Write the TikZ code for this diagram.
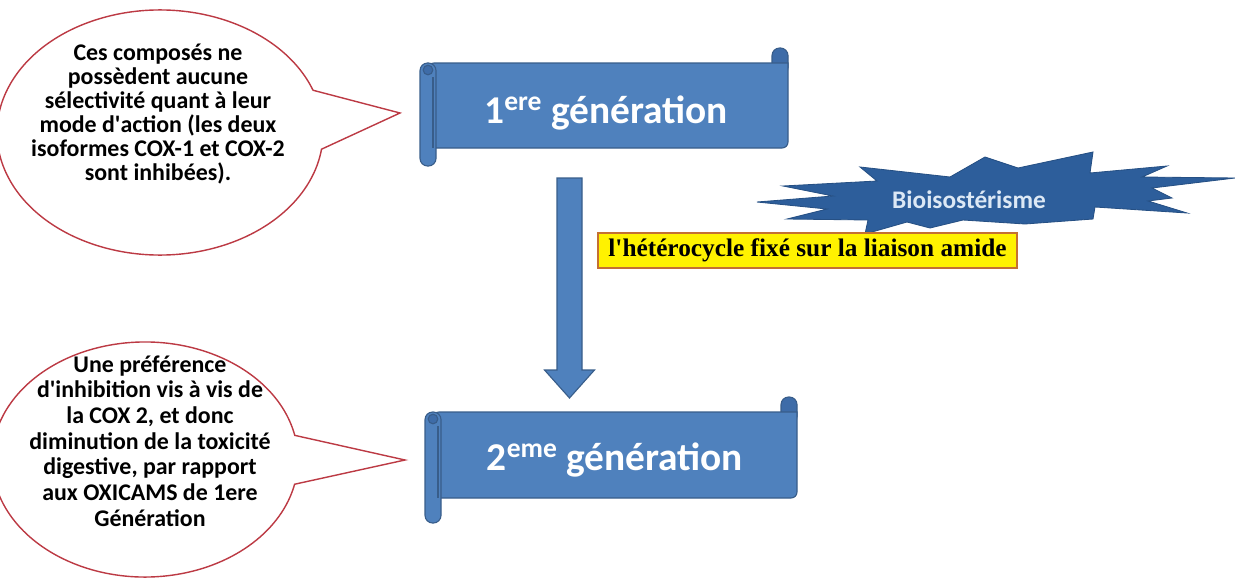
\documentclass[tikz,border=0pt]{standalone}
\usepackage{fontspec}
\setmainfont{Carlito}
\newfontfamily\amidefont{Liberation Serif}
\usetikzlibrary{shapes.callouts,calc}

\definecolor{scrollblue}{RGB}{79,129,189}
\definecolor{scrolledge}{RGB}{56,93,138}
\definecolor{curlblue}{RGB}{62,108,168}
\definecolor{starblue}{RGB}{45,94,155}
\definecolor{startext}{RGB}{220,232,245}
\definecolor{bubbleedge}{RGB}{188,58,68}
\definecolor{amideedge}{RGB}{196,112,50}

\tikzset{
  bubble/.style={ellipse callout, draw=bubbleedge, fill=white, line width=1pt},
  bubbletext/.style={align=center, font=\fontsize{17}{17}\selectfont\bfseries},
  gentext/.style={text=white, font=\fontsize{28}{28}\selectfont\bfseries},
  scrollpart/.style={fill=scrollblue, draw=scrolledge, line width=0.8pt},
}

% scroll banner: left x, top y, right x, bottom y, bottom of the left roll
\newcommand{\genscroll}[5]{%
  \filldraw[scrollpart, fill=curlblue, rounded corners=0.19cm] (#3-16,#2-15) rectangle (#3,#2+12);
  \filldraw[scrollpart] (#1+8,#2) -- (#3,#2) [rounded corners=0.15cm] -- (#3,#4) -- (#1+8,#4) -- cycle;
  \filldraw[scrollpart, rounded corners=0.19cm] (#1,#2) rectangle (#1+16,#5);
  \draw[scrolledge, line width=0.8pt] (#1+13,#2+14) -- (#1+13,#4);
  \filldraw[scrollpart, fill=curlblue] (#1+8,#2+7) circle[radius=0.12cm];
}

\begin{document}
\begin{tikzpicture}[x=0.025cm, y=-0.025cm]
  \useasboundingbox (0,0) rectangle (1235,585);

  % callouts
  \node[bubble, minimum width=8.15cm, minimum height=6.125cm,
        callout absolute pointer={(400,113)}, callout pointer arc=28] (note1) at (160,132.5) {};
  \node[bubbletext] (note1text) at (158,114)
    {Ces composés ne\\possèdent aucune\\sélectivité quant à leur\\mode d\textquotesingle action (les deux\\isoformes COX-1 et COX-2\\sont inhibées).};

  \node[bubble, minimum width=7.65cm, minimum height=5.875cm,
        callout absolute pointer={(405,460)}, callout pointer arc=24] (note2) at (145,459.5) {};
  \node[bubbletext, font=\fontsize{17}{18.3}\selectfont\bfseries] (note2text) at (150,441)
    {Une préférence\\d\textquotesingle inhibition vis à vis de\\la COX 2, et donc\\diminution de la toxicité\\digestive, par rapport\\aux OXICAMS de 1ere\\Génération};

  % generations
  \genscroll{420}{63}{788}{148}{166}
  \node[gentext] (gen1) at (606,113) {1\textsuperscript{ere} génération};

  \genscroll{425}{412}{797}{498}{523}
  \node[gentext] (gen2) at (615,460) {2\textsuperscript{eme} génération};

  % block arrow between them
  \coordinate (atop) at (569.5,178);
  \coordinate (atip) at (569.5,398);
  \filldraw[scrollpart] ($(atop)+(-12.5,0)$) -- ($(atop)+(12.5,0)$) -- ($(atip)+(12.5,-28)$)
    -- ($(atip)+(25,-28)$) -- (atip) -- ($(atip)+(-25,-28)$) -- ($(atip)+(-12.5,-28)$) -- cycle;

  % explosion
  \filldraw[fill=starblue, draw=starblue!85!black, line width=0.6pt]
    (757,202) -- (833,196) -- (783,186) -- (877,181) -- (860,167) -- (950,177) -- (985,157)
    -- (1018,168) -- (1093,152) -- (1090,173) -- (1167,166) -- (1142,177) -- (1235,178)
    -- (1152,188) -- (1172,198) -- (1148,201) -- (1187,213) -- (1095,207) -- (1093,219)
    -- (1025,224) -- (963,220) -- (930,228) -- (907,222) -- (865,234) -- (868,220)
    -- (787,219) -- (827,209) -- cycle;
  \node[text=startext, font=\fontsize{18}{18}\selectfont\bfseries] (bioiso) at (969,200) {Bioisostérisme};

  \node[draw=amideedge, fill=yellow, line width=1pt, inner sep=0pt,
        minimum width=10.475cm, minimum height=0.875cm,
        font=\amidefont\bfseries\fontsize{18}{18}\selectfont] (amide) at (807.5,250.5)
    {l'hétérocycle fixé sur la liaison amide};
\end{tikzpicture}
\end{document}
